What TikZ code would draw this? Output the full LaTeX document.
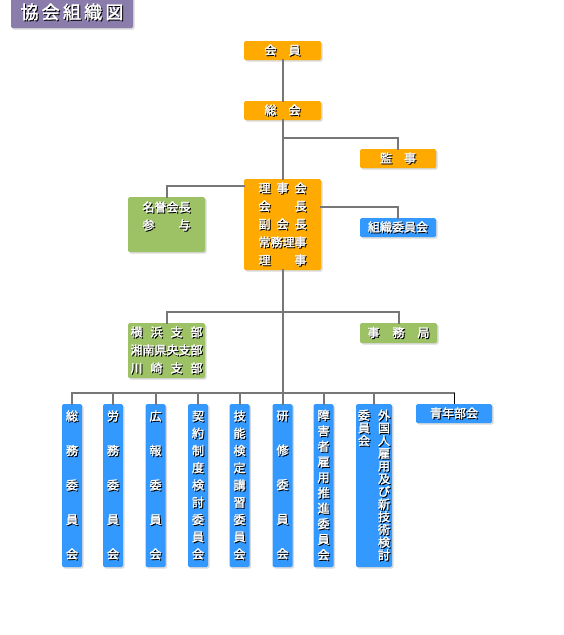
\documentclass[tikz,border=0pt]{standalone}
\usepackage{fontspec}
\usepackage{xcolor}
\usepackage{tikz}
\usetikzlibrary{positioning,shadows}

\newfontfamily\jp[FakeBold=2]{Noto Sans CJK JP}
\definecolor{orgfill}{HTML}{FFAA00}
\definecolor{grnfill}{HTML}{9DC266}
\definecolor{blufill}{HTML}{3399FF}
\definecolor{purfill}{HTML}{8B7DAB}
\definecolor{linegray}{HTML}{777777}

\newcommand\sh[1]{\leavevmode\rlap{\kern1pt\raisebox{-1pt}{\color{black}#1}}#1}
\newcommand\jst[2]{\makebox[#1][s]{#2}}
\newcommand\vfont[1]{\jp\fontsize{12}{#1}\selectfont}
\makeatletter
\newcommand\vt[1]{\vt@#1\@nil}
\def\vt@#1#2\@nil{\sh{#1}\ifx\relax#2\relax\else\\\vt@#2\@nil\fi}
\makeatother

\begin{document}
\begin{tikzpicture}[x=1pt,y=-1pt,
  unit/.style={
   rounded corners=1.5pt,
   inner sep=0pt,
   text=white,
   align=center,
   font=\jp\fontsize{12}{18}\selectfont,
   drop shadow={shadow xshift=1.5pt,shadow yshift=-1.5pt,opacity=0.3}
  },
  orng/.style={unit,fill=orgfill,minimum width=77pt,minimum height=19pt},
  grn/.style={unit,fill=grnfill,minimum width=77pt},
  blu/.style={unit,fill=blufill,minimum width=76pt,minimum height=19pt},
  vunit/.style={unit,fill=blufill,minimum width=20pt,minimum height=163pt},
  conn/.style={draw=linegray,line width=2pt,line cap=rect}]
	\useasboundingbox (0,0) rectangle (564,635);

	\node[unit,fill=purfill,minimum width=122pt,minimum height=31pt,
	  font=\jp\fontsize{18}{20}\selectfont] at (72,12.5)
		  (title) {\sh{\jst{103pt}{協\hfil 会\hfil 組\hfil 織\hfil 図}}};

	\node[orng] at (282.5,50.5)
		  (kaiin) {\sh{\jst{36pt}{会\hfil 員}}};
	\node[orng] at (282.5,110.5)
		  (soukai) {\sh{\jst{36pt}{総\hfil 会}}};
	\node[orng,minimum width=76pt] at (398,158.5)
		  (kanji) {\sh{\jst{36pt}{監\hfil 事}}};
	\node[orng,minimum height=91pt] at (282.5,224.5)
		  (rijikai) {\sh{\jst{48pt}{理\hfil 事\hfil 会}}\\
		             \sh{\jst{48pt}{会\hfil 長}}\\
		             \sh{\jst{48pt}{副\hfil 会\hfil 長}}\\
		             \sh{常務理事}\\
		             \sh{\jst{48pt}{理\hfil 事}}};
	\node[grn,minimum height=55pt] at (166.5,224.5)
		  (meiyo) {\sh{名誉会長}\\ \sh{\jst{48pt}{参\hfil 与}}\\ \mbox{}};
	\node[blu] at (398,227.5)
		  (soshiki) {\sh{組織委員会}};

	\node[grn,minimum height=55pt] at (166.5,350.5)
		  (shibu) {\sh{\jst{72pt}{横\hfil 浜\hfil 支\hfil 部}}\\
		           \sh{湘南県央支部}\\
		           \sh{\jst{72pt}{川\hfil 崎\hfil 支\hfil 部}}};
	\node[grn,minimum height=20pt] at (398.5,333)
		  (jimu) {\sh{\jst{62pt}{事\hfil 務\hfil 局}}};

	\node[vunit,font=\vfont{34.5}] at (72,485.5)
		  (soumu) {\vt{総務委員会}};
	\node[vunit,font=\vfont{34.5}] at (113,485.5)
		  (roumu) {\vt{労務委員会}};
	\node[vunit,font=\vfont{34.5}] at (155.5,485.5)
		  (kouhou) {\vt{広報委員会}};
	\node[vunit,font=\vfont{17.25}] at (198,485.5)
		  (keiyaku) {\vt{契約制度検討委員会}};
	\node[vunit,font=\vfont{17.25}] at (239.5,485.5)
		  (ginou) {\vt{技能検定講習委員会}};
	\node[vunit,font=\vfont{34.5}] at (282.5,485.5)
		  (kenshu) {\vt{研修委員会}};
	\node[vunit,font=\vfont{15.5}] at (323.5,485.5)
		  (shougai) {\vt{障害者雇用推進委員会}};
	\node[vunit,minimum width=36pt,font=\vfont{12.7}] at (374,485.5)
		  (gaikoku) {\parbox[t]{12pt}{\centering\vt{委員会}}\hspace{8pt}%
		             \parbox[t]{12pt}{\centering\vt{外国人雇用及び新技術検討}}};
	\node[blu] at (454,413.5)
		  (seinen) {\sh{青年部会}};

	\coordinate (kb) at (282.5,138);
	\coordinate (br) at (282.5,312);
	\coordinate (bus) at (282.5,393);

	\draw[conn] (kaiin) -- (soukai);
	\draw[conn] (soukai) -- (rijikai);
	\draw[conn] (kb) -| (kanji);
	\draw[conn] ([yshift=-7pt]rijikai.north west) -| (meiyo);
	\draw[conn] ([yshift=-28pt]rijikai.north east) -| (soshiki);
	\draw[conn] (rijikai) -- (bus);
	\draw[conn] (shibu) |- (br) -| (jimu);
	\draw[conn] (soumu.north |- bus) -- (seinen.north |- bus);
	\foreach \n in {soumu,roumu,kouhou,keiyaku,ginou,kenshu,shougai,gaikoku}
		\draw[conn] (\n) -- (\n.north |- bus);
	\draw[black,line width=1pt] (seinen) -- (seinen.north |- bus);

\end{tikzpicture}
\end{document}
